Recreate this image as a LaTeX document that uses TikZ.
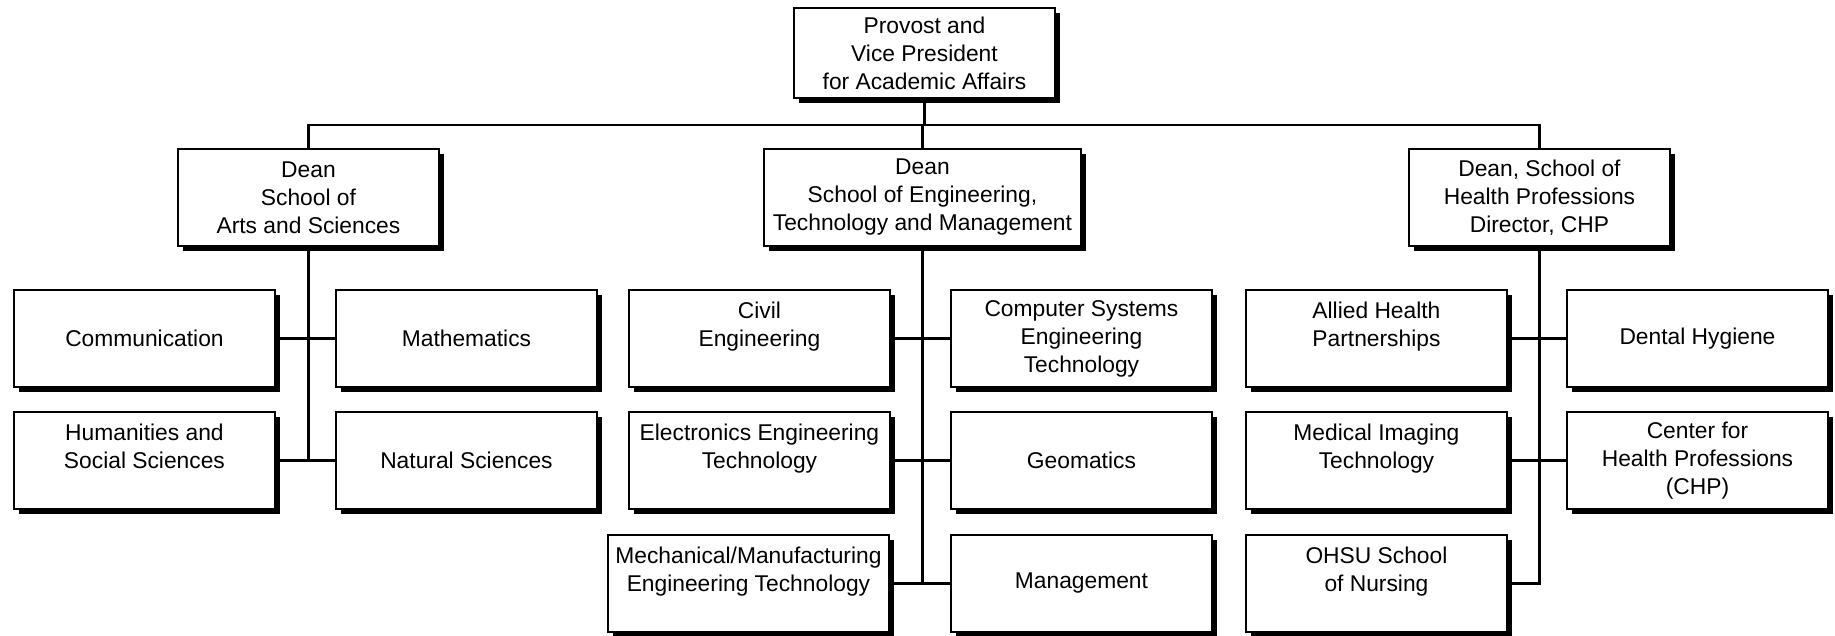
\documentclass[tikz,border=0pt]{standalone}
\usepackage{fontspec}
\setmainfont{Liberation Sans}
\usetikzlibrary{shadows}
\begin{document}
\begin{tikzpicture}[x=1pt,y=-1pt,
  box/.style={draw, fill=white, line width=1.9pt, inner sep=0pt, align=center,
    anchor=north west, minimum width=261pt, minimum height=97pt,
    font=\fontsize{22.8}{28}\selectfont,
    drop shadow={shadow xshift=5pt, shadow yshift=-5pt, fill=black, opacity=1}},
  conn/.style={line width=2.4pt}]
\useasboundingbox (0,0) rectangle (1835,635);
% level 1
\node[box, minimum height=90pt] (top) at (793,7) {Provost and\\Vice President\\for Academic Affairs};
% level 2
\node[box] (as) at (177,148) {Dean\\School of\\Arts and Sciences};
\node[box, minimum width=317pt] (eng) at (763,148) {Dean\\School of Engineering,\\Technology and Management};
\node[box] (hp) at (1408,148) {Dean, School of\\Health Professions\\Director, CHP};
% level 3 left
\node[box] (comm) at (13,289) {Communication};
\node[box] (math) at (335,289) {Mathematics};
\node[box] (hss) at (13,411) {Humanities and\\Social Sciences\\\mbox{}};
\node[box] (nat) at (335,411) {Natural Sciences};
% level 3 middle
\node[box] (civil) at (628,289) {Civil\\Engineering\\\mbox{}};
\node[box] (cset) at (950,289) {Computer Systems\\Engineering\\Technology};
\node[box] (elec) at (628,411) {Electronics Engineering\\Technology\\\mbox{}};
\node[box] (geo) at (950,411) {Geomatics};
\node[box, minimum width=281pt] (mech) at (607,534) {Mechanical/Manufacturing\\Engineering Technology\\\mbox{}};
\node[box] (mgmt) at (950,534) {Management};
% level 3 right
\node[box] (allied) at (1245,289) {Allied Health\\Partnerships\\\mbox{}};
\node[box] (dental) at (1566,289) {Dental Hygiene};
\node[box] (mit) at (1245,411) {Medical Imaging\\Technology\\\mbox{}};
\node[box] (chp) at (1566,411) {Center for\\Health Professions\\(CHP)};
\node[box] (ohsu) at (1245,534) {OHSU School\\of Nursing\\\mbox{}};
% bus
\coordinate (bus) at (923,125);
\draw[conn] (top.south) -- (top.south |- bus);
\draw[conn] (as.north) -- (as.north |- bus) -- (hp.north |- bus) -- (hp.north);
\draw[conn] (eng.north) -- (eng.north |- bus);
% left branch
\draw[conn] (as.south) -- (as.south |- hss.east);
\draw[conn] (comm.east) -- (math.west);
\draw[conn] (hss.east) -- (nat.west);
% middle branch
\draw[conn] (eng.south) -- (eng.south |- mech.east);
\draw[conn] (civil.east) -- (cset.west);
\draw[conn] (elec.east) -- (geo.west);
\draw[conn] (mech.east) -- (mgmt.west);
% right branch
\draw[conn] (hp.south) -- (hp.south |- ohsu.east) -- (ohsu.east);
\draw[conn] (allied.east) -- (dental.west);
\draw[conn] (mit.east) -- (chp.west);
\end{tikzpicture}
\end{document}
